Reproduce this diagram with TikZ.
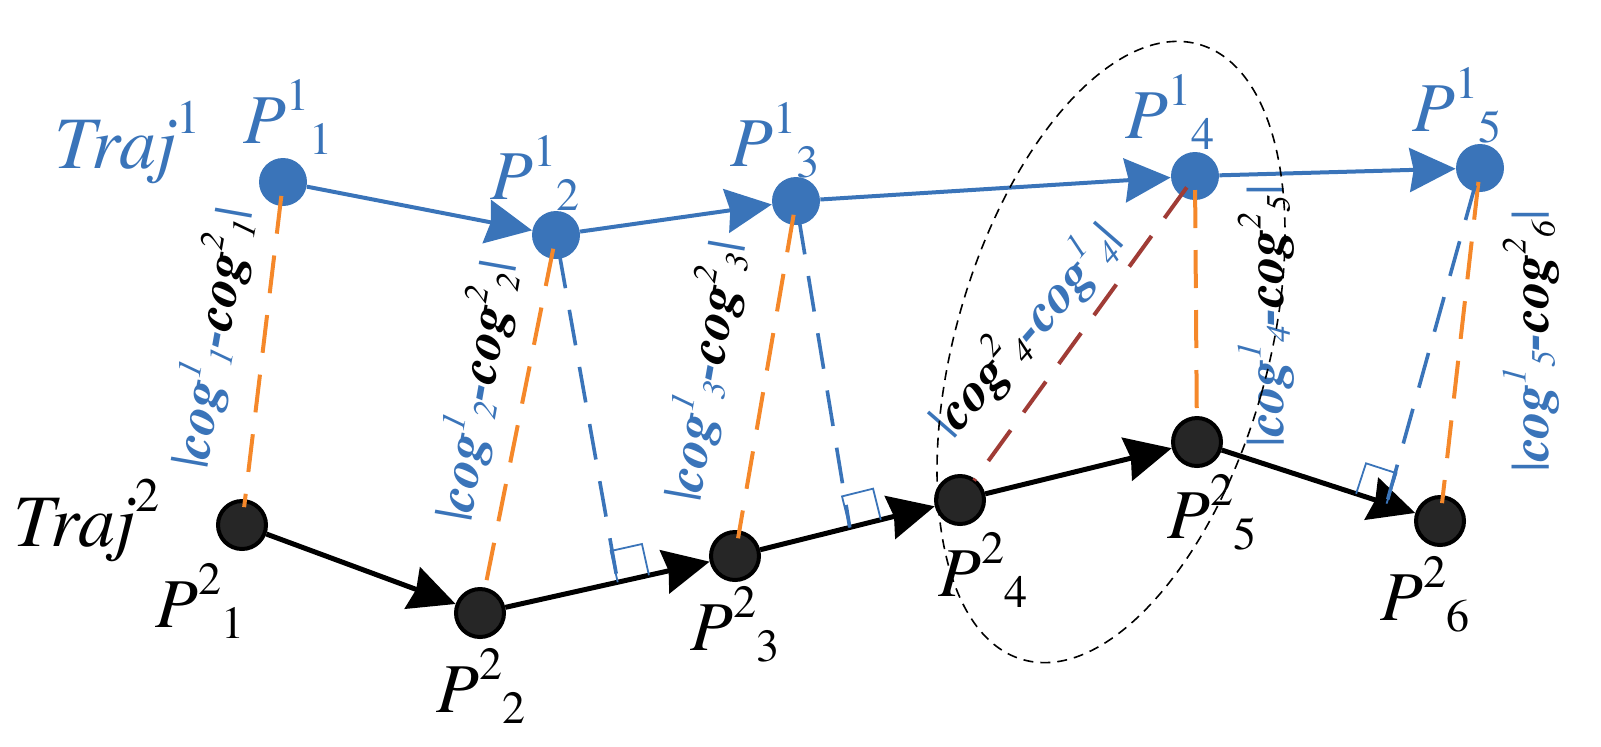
\documentclass[tikz,border=0pt]{standalone}
\usepackage[T1]{fontenc}
\renewcommand{\rmdefault}{ptm}
\usetikzlibrary{arrows.meta,calc,shapes.geometric}

\definecolor{trajblue}{RGB}{58,116,185}
\definecolor{dashorange}{RGB}{245,136,42}
\definecolor{dashbrown}{RGB}{160,60,54}
\definecolor{nodegray}{RGB}{38,38,38}

\newcommand{\pp}[2]{\textit{P}\raisebox{0.46em}{\fontsize{23}{23}\selectfont#1}\raisebox{-0.17em}{\fontsize{23}{23}\selectfont#2}}
\newcommand{\trj}[1]{\textit{Traj}\raisebox{0.46em}{\fontsize{24}{24}\selectfont#1}}
\newcommand{\cg}[2]{cog\raisebox{0.42em}{\fontsize{17}{17}\selectfont\mdseries#1}\raisebox{-0.12em}{\fontsize{17}{17}\selectfont\mdseries#2}}
\newcommand{\vb}{{\mdseries\upshape|}}

\tikzset{
  bluept/.style={circle,fill=trajblue,minimum size=24pt,inner sep=0pt},
  blackpt/.style={circle,fill=nodegray,draw=black,line width=2pt,minimum size=24pt,inner sep=0pt},
  bluearrow/.style={trajblue,line width=2pt,-{Stealth[length=23pt,width=22pt,inset=2pt]}},
  blackarrow/.style={black,line width=2.5pt,-{Stealth[length=23pt,width=22pt,inset=2pt]}},
  orangedash/.style={dashorange,line width=2pt,dash pattern=on 19pt off 11pt},
  browndash/.style={dashbrown,line width=2pt,dash pattern=on 19pt off 11pt},
  bluedash/.style={trajblue,line width=1.8pt,dash pattern=on 18pt off 11pt},
  sqmark/.style={trajblue,line width=0.9pt},
  lbl/.style={font=\fontsize{35}{35}\selectfont,inner sep=0pt,anchor=base west},
  trjlbl/.style={font=\fontsize{37}{37}\selectfont,inner sep=0pt,anchor=base west},
  coglbl/.style={font=\fontsize{27}{27}\selectfont\bfseries\itshape,inner sep=0pt},
}

\begin{document}
\begin{tikzpicture}[x=0.5pt,y=-0.5pt]
\useasboundingbox (0,0) rectangle (1601,746);

% trajectory 1
\node[bluept] (B1) at (283,182) {};
\node[bluept] (B2) at (556,235) {};
\node[bluept] (B3) at (796,201) {};
\node[bluept] (B4) at (1195,176) {};
\node[bluept] (B5) at (1480,168) {};

% trajectory 2
\node[blackpt] (K1) at (242,525) {};
\node[blackpt] (K2) at (480,613) {};
\node[blackpt] (K3) at (735,556) {};
\node[blackpt] (K4) at (960,500) {};
\node[blackpt] (K5) at (1197,442) {};
\node[blackpt] (K6) at (1440,521) {};

% point names
\node[trjlbl,trajblue] (T1) at (54,168) {\trj{1}};
\node[trjlbl] (T2) at (13,546) {\trj{2}};
\node[lbl,trajblue] (N11) at (243,143) {\pp{1}{1}};
\node[lbl,trajblue] (N12) at (490,199) {\pp{1}{2}};
\node[lbl,trajblue] (N13) at (730,166) {\pp{1}{3}};
\node[lbl,trajblue] (N14) at (1125,138) {\pp{1}{4}};
\node[lbl,trajblue] (N15) at (1412,131) {\pp{1}{5}};
\node[lbl] (N21) at (155,627) {\pp{2}{1}};
\node[lbl] (N22) at (436,712) {\pp{2}{2}};
\node[lbl] (N23) at (690,650) {\pp{2}{3}};
\node[lbl] (N24) at (938,596) {\pp{2}{4}};
\node[lbl] (N25) at (1167,538) {\pp{2}{5}};
\node[lbl] (N26) at (1380,620) {\pp{2}{6}};

% moves
\draw[bluearrow] (B1) -- (B2);
\draw[bluearrow] (B2) -- (B3);
\draw[bluearrow] (B3) -- (B4);
\draw[bluearrow] (B4) -- (B5);
\draw[blackarrow] (K1) -- (K2);
\draw[blackarrow] (K2) -- (K3);
\draw[blackarrow] (K3) -- (K4);
\draw[blackarrow] (K4) -- (K5);
\draw[blackarrow] (K5) -- (K6);

% feet of the perpendiculars
\coordinate (F2) at ($(K2)!0.54!(K3)$);
\coordinate (F3) at ($(K3)!0.51!(K4)$);
\coordinate (F5) at ($(K5)!0.78!(K6)$);
\coordinate (S2a) at ($(F2)!16pt!(K3)$);
\coordinate (S2b) at ($(F2)!16pt!90:(K3)$);
\coordinate (S3a) at ($(F3)!16pt!(K4)$);
\coordinate (S3b) at ($(F3)!16pt!90:(K4)$);
\coordinate (S5a) at ($(F5)!16pt!(K5)$);
\coordinate (S5b) at ($(F5)!16pt!-90:(K5)$);
\draw[sqmark] (S2a) -- ($(S2a)+(S2b)-(F2)$) -- (S2b) -- (F2);
\draw[sqmark] (S3a) -- ($(S3a)+(S3b)-(F3)$) -- (S3b) -- (F3);
\draw[sqmark] (S5a) -- ($(S5a)+(S5b)-(F5)$) -- (S5b) -- (F5);

% distances
\draw[orangedash,shorten <=7pt,shorten >=9pt] (B1.center) -- (K1.center);
\draw[orangedash,shorten <=7pt,shorten >=9pt] (B2.center) -- (K2.center);
\draw[orangedash,shorten <=7pt,shorten >=9pt] (B3.center) -- (K3.center);
\draw[orangedash,shorten <=7pt,shorten >=9pt] (B4.center) -- (K5.center);
\draw[orangedash,shorten <=7pt,shorten >=9pt] (B5.center) -- (K6.center);
\draw[browndash,shorten <=7pt,shorten >=12pt] (B4.center) -- (K4.center);
\draw[bluedash,shorten <=9pt] (B2.center) -- (F2);
\draw[bluedash,shorten <=9pt] (B3.center) -- (F3);
\draw[bluedash,shorten <=9pt] (B5.center) -- (F5);

% distance labels
\node[coglbl,rotate=80] (L1) at (212,338) {\textcolor{trajblue}{\vb\cg{1}{1}-}\cg{2}{1}\textcolor{trajblue}{\vb}};
\node[coglbl,rotate=80] (L2) at (476,391) {\textcolor{trajblue}{\vb\cg{1}{2}-}\cg{2}{2}\textcolor{trajblue}{\vb}};
\node[coglbl,rotate=80] (L3) at (705,371) {\textcolor{trajblue}{\vb\cg{1}{3}-}\cg{2}{3}\textcolor{trajblue}{\vb}};
\node[coglbl,rotate=49] (L4) at (1026,330) {\textcolor{trajblue}{\vb}\cg{2}{4}\textcolor{trajblue}{-\cg{1}{4}\vb}};
\node[coglbl,rotate=90] (L5) at (1266,316) {\textcolor{trajblue}{\vb\cg{1}{4}-}\cg{2}{5}\textcolor{trajblue}{\vb}};
\node[coglbl,rotate=90] (L6) at (1531,341) {\textcolor{trajblue}{\vb\cg{1}{5}-}\cg{2}{6}\textcolor{trajblue}{\vb}};

% the matched pair
\node[ellipse,draw,line width=0.8pt,dash pattern=on 5pt off 3.5pt,minimum width=156pt,minimum height=320pt,inner sep=0pt,rotate=-16] (E) at (1111,352) {};
\end{tikzpicture}
\end{document}
